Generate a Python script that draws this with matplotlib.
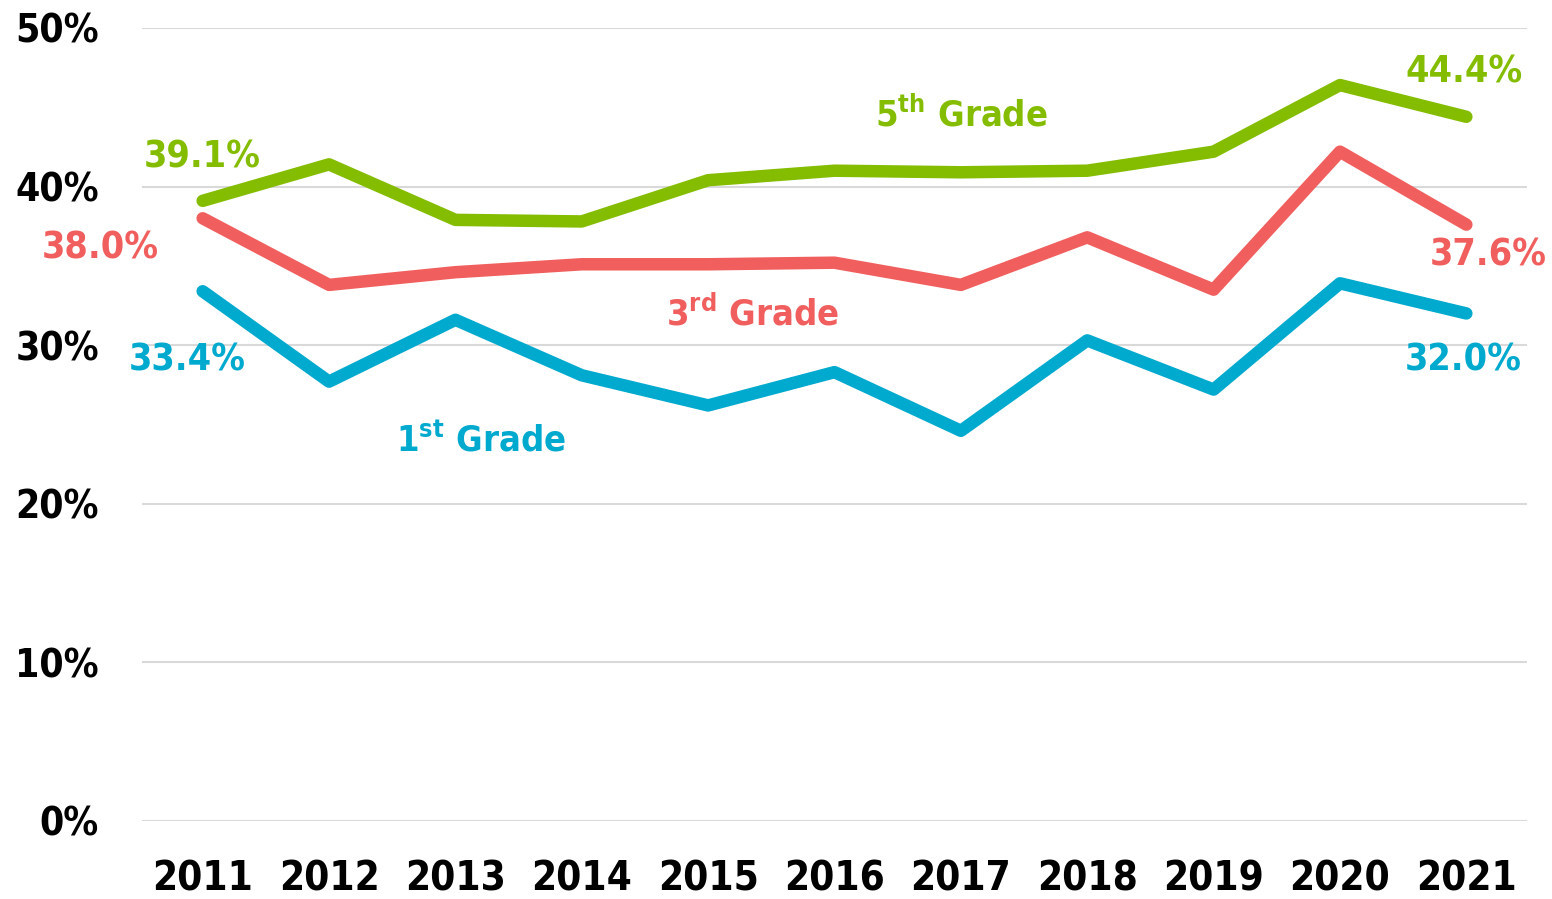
import matplotlib
matplotlib.use("Agg")
import matplotlib.pyplot as plt

plt.rcParams['font.family'] = ['DejaVu Sans']
plt.rcParams['font.stretch'] = 'condensed'
plt.rcParams['mathtext.fontset'] = 'custom'
plt.rcParams['mathtext.rm'] = 'DejaVu Sans:weight=bold:stretch=condensed'
plt.rcParams['mathtext.bf'] = 'DejaVu Sans:weight=bold:stretch=condensed'

years = [2011, 2012, 2013, 2014, 2015, 2016, 2017, 2018, 2019, 2020, 2021]
grade5 = [39.1, 41.4, 37.9, 37.8, 40.4, 41.0, 40.9, 41.0, 42.2, 46.4, 44.4]
grade3 = [38.0, 33.8, 34.6, 35.1, 35.1, 35.2, 33.8, 36.8, 33.5, 42.2, 37.6]
grade1 = [33.4, 27.7, 31.6, 28.1, 26.2, 28.3, 24.6, 30.3, 27.2, 33.9, 32.0]

green = "#84BD00"
red = "#F05F5D"
blue = "#00A9CE"

fig = plt.figure(figsize=(15.52, 8.99), dpi=100)
ax = fig.add_axes([0.0915, 0.0868, 0.8924, 0.8821])

for vals, col in [(grade1, blue), (grade3, red), (grade5, green)]:
    ax.plot(years, vals, color=col, linewidth=9, solid_capstyle='round',
            solid_joinstyle='round', clip_on=False, zorder=3)

ax.set_xlim(2010.52, 2021.48)
ax.set_ylim(0, 50)
ax.set_yticks([0, 10, 20, 30, 40, 50])
ax.set_yticklabels([f"{v}%" for v in [0, 10, 20, 30, 40, 50]])
ax.set_xticks(years)
ax.set_xticklabels([str(y) for y in years])
ax.tick_params(axis='y', length=0, pad=31, labelsize=28)
ax.tick_params(axis='x', length=0, pad=28, labelsize=29)
for lab in ax.get_xticklabels() + ax.get_yticklabels():
    lab.set_fontweight('bold')
ax.grid(axis='y', color='#D9D9D9', linewidth=1.5)
ax.set_axisbelow(True)
for s in ax.spines.values():
    s.set_visible(False)

# end labels
def endlabel(x, y, txt, col, dx, dy):
    ax.annotate(txt, xy=(x, y), xytext=(dx, dy), textcoords='offset points',
                ha='center', va='center', color=col, fontsize=27,
                fontweight='bold')

endlabel(years[0], grade5[0], f"{grade5[0]:.1f}%", green, 0, 31)
endlabel(years[0], grade3[0], f"{grade3[0]:.1f}%", red, -74, -22)
endlabel(years[0], grade1[0], f"{grade1[0]:.1f}%", blue, -11, -50)
endlabel(years[-1], grade5[-1], f"{grade5[-1]:.1f}%", green, -2, 32)
endlabel(years[-1], grade3[-1], f"{grade3[-1]:.1f}%", red, 16, -22)
endlabel(years[-1], grade1[-1], f"{grade1[-1]:.1f}%", blue, -2, -34)

# series names
ax.text(2017.0, 44.5, r"5$^{\mathrm{th}}$ Grade", color=green, fontsize=26,
        fontweight='bold', ha='center', va='center')
ax.text(2015.35, 32.0, r"3$^{\mathrm{rd}}$ Grade", color=red, fontsize=26,
        fontweight='bold', ha='center', va='center')
ax.text(2013.2, 24.0, r"1$^{\mathrm{st}}$ Grade", color=blue, fontsize=26,
        fontweight='bold', ha='center', va='center')

fig.savefig("out.png", dpi=100)
